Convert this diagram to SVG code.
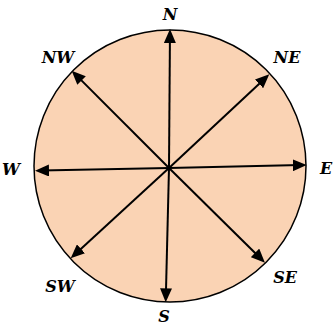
<svg xmlns="http://www.w3.org/2000/svg" width="333" height="325" viewBox="0 0 333 325">
<style>
.lbl{font-family:"DejaVu Serif","Liberation Serif",serif;font-weight:bold;font-style:italic;font-size:16px;fill:#000;text-anchor:middle}
.arr{stroke:#000;stroke-width:2;fill:none;marker-end:url(#ah)}
</style>
<defs>
<marker id="ah" viewBox="0 0 14 12" refX="8" refY="6" markerWidth="14" markerHeight="12" markerUnits="userSpaceOnUse" orient="auto">
<path d="M0,0 L14,6 L0,12 Z" fill="#000"/>
</marker>
</defs>
<rect width="333" height="325" fill="#fff"/>
<g id="dial">
<circle cx="170" cy="166" r="136" fill="#FAD3B4" stroke="#000" stroke-width="1.5"/>
</g>
<g id="connectors">
<line class="arr" x1="169" y1="168" x2="169.96" y2="35"/>
<line class="arr" x1="169" y1="168" x2="165.85" y2="296.3"/>
<line class="arr" x1="169" y1="168" x2="41" y2="170.6"/>
<line class="arr" x1="169" y1="168" x2="300.7" y2="165.1"/>
<line class="arr" x1="169" y1="168" x2="75.9" y2="74.9"/>
<line class="arr" x1="169" y1="168" x2="264.9" y2="78.4"/>
<line class="arr" x1="169" y1="168" x2="75.1" y2="254.2"/>
<line class="arr" x1="169" y1="168" x2="260.7" y2="258.5"/>
</g>
<g id="N"><text class="lbl" x="170" y="20">N</text></g>
<g id="S"><text class="lbl" x="164" y="322">S</text></g>
<g id="W"><text class="lbl" x="11" y="175">W</text></g>
<g id="E"><text class="lbl" x="320" y="173.5" style="text-anchor:start">E</text></g>
<g id="NW"><text class="lbl" x="58" y="63">NW</text></g>
<g id="NE"><text class="lbl" x="287" y="63">NE</text></g>
<g id="SW"><text class="lbl" x="60" y="292">SW</text></g>
<g id="SE"><text class="lbl" x="285" y="283">SE</text></g>
</svg>
